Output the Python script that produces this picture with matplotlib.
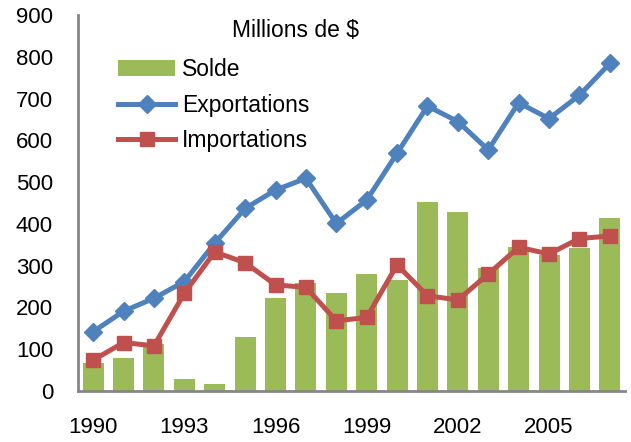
"""Solde, exportations et importations (millions de $), 1990-2007."""

import numpy as np
from matplotlib import pyplot as plt

years = list(range(1990, 2008))
solde = [67, 79, 112, 29, 17, 129, 222, 258, 235, 281, 266, 453, 428, 294, 345, 325, 343, 415]
exportations = [142, 191, 222, 262, 354, 437, 481, 509, 401, 457, 569, 682, 645, 577, 690, 652, 708, 784]
importations = [74, 116, 108, 234, 333, 307, 254, 248, 168, 176, 302, 228, 218, 280, 344, 328, 365, 371]
tick_years = [1990, 1993, 1996, 1999, 2002, 2005]

GREEN = "#9BBB59"
BLUE = "#4F81BD"
RED = "#C0504D"
TICK_SIZE = 16
LEGEND_SIZE = 16.5

plt.rcParams.update({"font.family": ["Liberation Sans", "DejaVu Sans"], "font.size": TICK_SIZE})

fig = plt.figure(figsize=(6.31, 4.42), dpi=100)
ax = fig.add_axes([78 / 631, 1 - 391 / 442, 547 / 631, 376 / 442])

x = np.arange(len(years))
bars = ax.bar(x, solde, width=0.69, color=GREEN, label="Solde", zorder=1)
line_exp, = ax.plot(x, exportations, color=BLUE, linewidth=3.6, marker="D", markersize=9,
                    label="Exportations", zorder=3)
line_imp, = ax.plot(x, importations, color=RED, linewidth=3.6, marker="s", markersize=10.5,
                    label="Importations", zorder=4)

ax.set_xlim(-0.5, len(years) - 0.5)
ax.set_ylim(0, 900)
ax.set_yticks(range(0, 901, 100))
ax.set_xticks([years.index(y) for y in tick_years])
ax.set_xticklabels([str(y) for y in tick_years])
ax.tick_params(axis="both", length=0, labelsize=TICK_SIZE)
ax.tick_params(axis="x", pad=19)
ax.tick_params(axis="y", pad=18)

for side in ("top", "right"):
    ax.spines[side].set_visible(False)
for side in ("left", "bottom"):
    ax.spines[side].set_color("#868686")
    ax.spines[side].set_linewidth(2)

ax.legend([bars, line_exp, line_imp], ["Solde", "Exportations", "Importations"],
          loc="upper left", bbox_to_anchor=(0.073, 0.885), frameon=False, borderpad=0,
          borderaxespad=0, handlelength=2.5, handletextpad=0.3, labelspacing=0.55,
          fontsize=LEGEND_SIZE)
ax.text(0.282, 0.96, "Millions de $", transform=ax.transAxes, fontsize=LEGEND_SIZE,
        ha="left", va="center")

fig.savefig("out.png", dpi=100)
